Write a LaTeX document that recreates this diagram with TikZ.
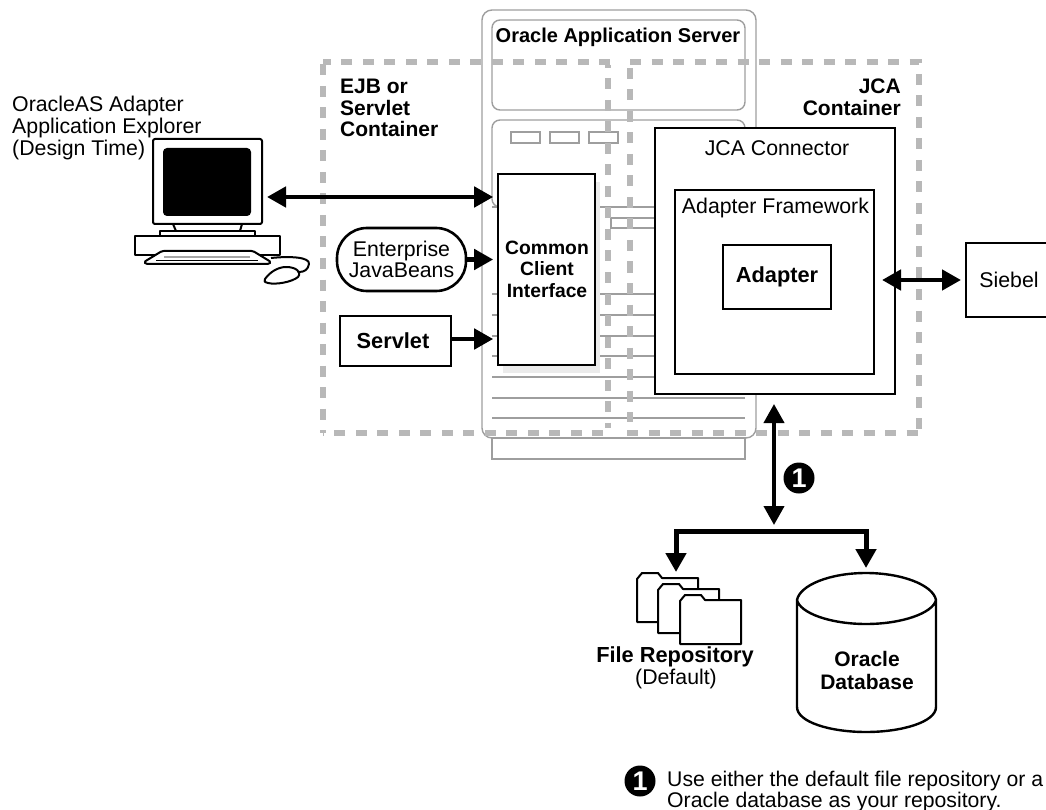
\documentclass[tikz,border=0pt]{standalone}
\usepackage{fontspec}
\setmainfont{Liberation Sans}
\usetikzlibrary{arrows.meta,positioning,shapes.geometric}
\definecolor{srv}{gray}{0.62}
\definecolor{dashc}{gray}{0.72}
\newcommand{\reg}{\fontsize{21.3}{21.7}\selectfont}
\newcommand{\bld}{\fontsize{20}{21.5}\selectfont\bfseries}
\newcommand{\bldm}{\fontsize{21}{21.5}\selectfont\bfseries}
\newcommand{\bldl}{\fontsize{21.8}{22}\selectfont\bfseries}
\newcommand{\blds}{\fontsize{19.3}{21.5}\selectfont\bfseries}
\tikzset{
 x=1pt,y=-1pt,
 srvline/.style={draw=srv,line width=1.4pt},
 dashbox/.style={draw=dashc,line width=6pt,dash pattern=on 11pt off 10.5pt},
 blackbox/.style={draw=black,line width=2.6pt,fill=white,inner sep=0pt},
 conn/.style={line width=4.6pt,draw=black,-{Triangle[length=19pt,width=20pt]}},
 biconn/.style={line width=4.6pt,draw=black,{Triangle[length=19pt,width=20pt]}-{Triangle[length=19pt,width=20pt]}},
 plain/.style={line width=2pt,draw=black,line join=round},
 boxlabel/.style={inner sep=0pt,align=center},
 badge/.style={circle,fill=black,text=white,inner sep=0pt,minimum size=31pt,font=\fontsize{27}{27}\selectfont\bfseries},
}
\begin{document}
\begin{tikzpicture}
\useasboundingbox (0,0) rectangle (1046,810);
% server
\draw[srvline,rounded corners=10pt] (482,10) rectangle (756,438);
\draw[srvline,rounded corners=8pt] (492,20) rectangle (745,110);
\draw[srvline,rounded corners=8pt] (500,207) -- (492,207) -- (492,120) -- (745,120) -- (745,207);
\foreach \a in {511,550,589} \draw[srvline] (\a,132) rectangle +(29,11);
\foreach \b in {207,294,315,336,356,377,398,418} \draw[srvline] (492,\b) -- (745,\b);
\draw[srvline] (611,218) rectangle (700,228);
\draw[srvline] (492,438) rectangle (745,459);
% dashed containers
\draw[dashbox] (610,62) -- (323,62);
\draw[dashbox] (323,64.5) -- (323,433);
\draw[dashbox] (603,433) -- (323,433);
\draw[dashbox,dash phase=8pt] (608,65) -- (608,428);
\draw[dashbox] (630,62) -- (919,62) -- (919,433);
\draw[dashbox] (630,68) -- (630,422);
\draw[dashbox] (627,433) -- (919,433);
% CCI
\fill[gray!16] (503,182) rectangle (600,373);
\node[blackbox,minimum width=97pt,minimum height=191pt] (cci) at (546.5,269.5) {};
\node[boxlabel,font=\blds] (ccil) at (547,269) {Common\\Client\\Interface};
% JCA
\node[blackbox,minimum width=240pt,minimum height=266pt] (jca) at (775,261) {};
\node[boxlabel,font=\reg] (jcat) at (777,148) {JCA Connector};
\node[blackbox,minimum width=199pt,minimum height=184pt] (fw) at (774.5,282) {};
\node[boxlabel,font=\reg] (fwt) at (775.5,208) {Adapter Framework};
\node[blackbox,font=\bldl,minimum width=108pt,minimum height=64pt] (adapter) at (777,277) {Adapter};
% Left
\node[blackbox,font=\reg,rounded corners=30pt,minimum width=129pt,minimum height=63pt,align=center] (ejb) at (401.5,259.5) {Enterprise\\JavaBeans};
\node[blackbox,font=\bldl,minimum width=111pt,minimum height=50pt] (servlet) at (395.5,341) {\hspace*{-5pt}Servlet};
\node[blackbox,font=\reg,minimum width=86pt,minimum height=74pt] (siebel) at (1009,280) {Siebel};
% labels
\node[boxlabel,font=\bldm,align=left,anchor=north west] (ejbl) at (340,79) {EJB or\\Servlet\\Container};
\node[boxlabel,font=\bldm,align=right,anchor=north east] (jcal) at (901,79) {JCA\\Container};
\node[boxlabel,font=\bld,anchor=center] (oas) at (618,37) {Oracle Application Server};
\node[boxlabel,font=\reg,align=left,anchor=north west] (expl) at (12,96) {OracleAS Adapter\\Application Explorer\\(Design Time)};
% computer
\draw[plain,fill=white,rounded corners=2pt] (153,139) rectangle (262,224);
\fill[black,rounded corners=4pt] (163,148) rectangle (251,216);
\draw[plain] (173,224) -- (176,231) (242,224) -- (240,231);
\draw[plain] (160,231) rectangle (255,236);
\draw[plain,fill=white] (135,236) rectangle (280,255);
\draw[plain,fill=white,rounded corners=1.5pt] (162,251) -- (253,251) -- (271,262) -- (269,264) -- (146,264) -- (144,262) -- cycle;
\draw[line width=2pt,draw=gray!70] (164,257) -- (250,257);
\draw[line width=1.6pt] (156,260.5) -- (258,260.5);
\draw[plain] (271,258) .. controls (290,256) and (310,257) .. (309,264) .. controls (308,270) and (304,272) .. (299,272);
\draw[plain,fill=white] (265,279) .. controls (270,272) and (278,267) .. (286,267) .. controls (296,267) and (302,272) .. (298,277) .. controls (292,282) and (276,285) .. (268,283) .. controls (264,282) and (264,281) .. (265,279) -- cycle;
\coordinate (pcright) at (267,197);
% connectors
\draw[biconn,shorten >=3.5pt] (pcright) -- (cci.west |- pcright);
\draw[conn,shorten >=3.5pt] (ejb.east) -- (cci.west |- ejb.east);
\coordinate (sv) at (servlet.east |- 0,339);
\draw[conn,shorten >=3.5pt] (sv) -- (cci.west |- sv);
\coordinate (sieb) at (961,280);
\coordinate (jcar) at (882,280);
\draw[biconn] (jcar) -- (sieb);
\coordinate (vt) at (774,404);
\coordinate (vb) at (774,525);
\draw[biconn,line width=4pt] (vt) -- (vb);
\node[badge] (b1) at (799,478) {1};
% branch
\coordinate (bl) at (676,531);
\coordinate (br) at (866,531);
\coordinate (fd) at (676,572);
\coordinate (dd) at (866,568);
\draw[line width=5pt,line join=miter] (676,560) -- (bl) -- (br) -- (866,556);
\draw[conn,line width=5pt] (bl) -- (fd);
\draw[conn,line width=5pt] (br) -- (dd);
% folders
\foreach \dx/\dy in {0/0,21/11,43/22}{
 \begin{scope}[shift={(\dx,\dy)}]
 \draw[plain,fill=white] (637,622) -- (637,579) -- (642,573) -- (658,573) -- (662,578) -- (698,578) -- (698,622) -- cycle;
 \end{scope}
}
\node[boxlabel,font=\bldl,anchor=center] (frl) at (675,657) {File Repository};
\node[boxlabel,font=\reg,anchor=center] (frd) at (676,679) {(Default)};
% database
\node[boxlabel,font=\fontsize{21}{22.5}\selectfont\bfseries] (dbl) at (867,670.5) {Oracle\\Database};
\draw[plain,line width=2.4pt] (797,600) .. controls (800,585) and (830,573) .. (866,573) .. controls (902,573) and (933,585) .. (936,600) .. controls (933,613) and (902,624) .. (866,624) .. controls (830,624) and (800,613) .. (797,600) -- (797,707) .. controls (797,722) and (830,732) .. (866,732) .. controls (902,732) and (936,722) .. (936,707) -- (936,600);
% note
\node[badge] (b2) at (640,781) {1};
\node[boxlabel,font=\fontsize{21.2}{21}\selectfont,align=left,anchor=north west] (note) at (667,771) {Use either the default file repository or a\\Oracle database as your repository.};
\end{tikzpicture}
\end{document}
